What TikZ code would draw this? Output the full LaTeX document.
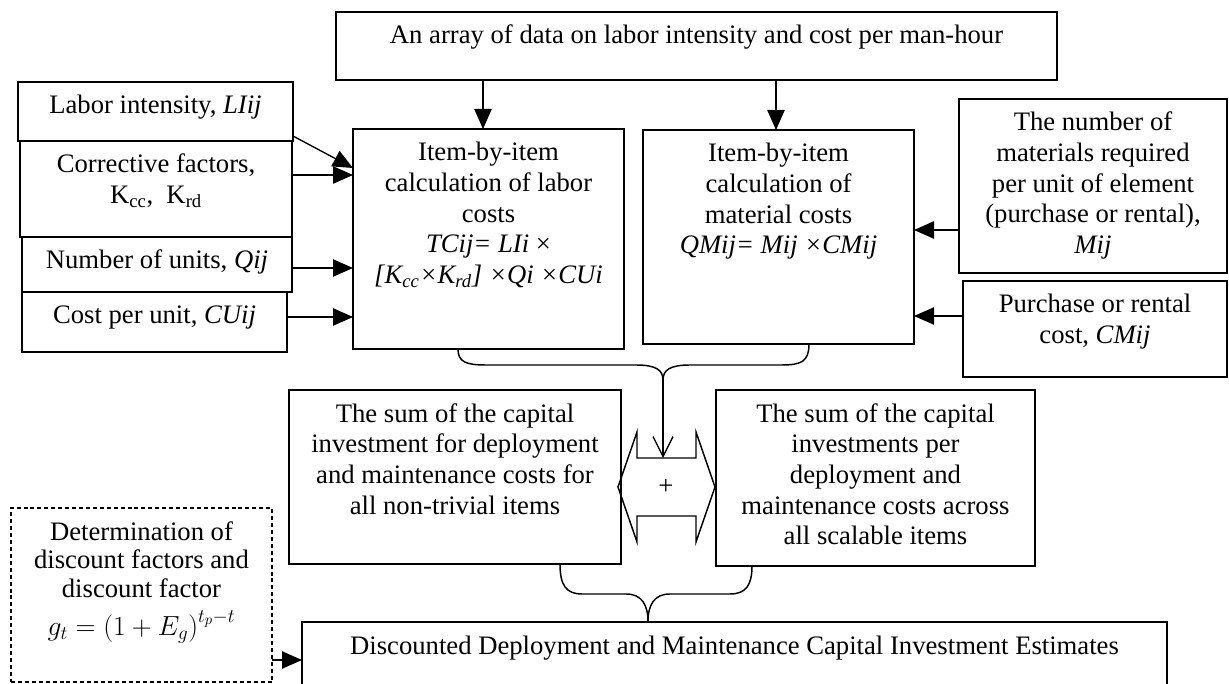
\documentclass[tikz,border=0pt]{standalone}
\usepackage{fontspec}
\setmainfont{Liberation Serif}
\usetikzlibrary{fit,arrows.meta}
\newcommand\firststrut{\rule{0pt}{17.8pt}}
\tikzset{
  box/.style={draw, line width=1.1pt, inner sep=0pt, outer sep=0pt},
  dbox/.style={box, dash pattern=on 3pt off 2.2pt},
  txt/.style={font=\fontsize{20}{23}\selectfont, align=center, inner sep=0pt, anchor=north},
  arr/.style={line width=1pt, -{Triangle[length=15pt,width=13pt]}},
  varr/.style={line width=1pt, -{Straight Barb[length=15pt,width=15pt,line width=1pt]}},
  brace/.style={line width=1.1pt},
}
\begin{document}
\begin{tikzpicture}[x=0.75pt,y=-0.75pt]
\useasboundingbox (0,0) rectangle (1229,684);
\clip (0,0) rectangle (1229,684);
% boxes
\node[box, fit={(336,12) (1057,80)}] (top) {};
\node[box, fit={(18,82) (293,141)}] (li) {};
\node[box, fit={(20,141) (292,237)}] (cf) {};
\node[box, fit={(22,237) (292,292)}] (nu) {};
\node[box, fit={(22,292) (287,352)}] (cu) {};
\node[box, fit={(353,129) (624,349)}] (lab) {};
\node[box, fit={(643,130) (914,344)}] (mat) {};
\node[box, fit={(959,99) (1227,273)}] (nm) {};
\node[box, fit={(963,281) (1227,377)}] (pr) {};
\node[box, fit={(289,390) (621,564)}] (ll) {};
\node[box, fit={(716,390) (1035,566)}] (lr) {};
\node[dbox, fit={(11,508) (272,682)}] (dash) {};
\node[box, fit={(302,622) (1167,700)}] (bot) {};
% texts
\node[txt] (ttop) at ([yshift=-6pt]top.north) {\firststrut An array of data on labor intensity and cost per man-hour};
\node[txt] (tli) at ([yshift=-6pt]li.north) {\firststrut Labor intensity, \textit{LIij}};
\node[txt] (tcf) at ([yshift=-6pt]cf.north) {\firststrut Corrective factors,\\ K\textsubscript{cc},\ \ K\textsubscript{rd}};
\node[txt] (tnu) at ([yshift=-6pt]nu.north) {\firststrut Number of units, \textit{Qij}};
\node[txt] (tcu) at ([yshift=-6pt]cu.north) {\firststrut Cost per unit, \textit{CUij}};
\node[txt] (tlab) at ([yshift=-6pt]lab.north) {\firststrut Item-by-item\\ calculation of labor\\ costs\\ \textit{TCij= LIi} ×\\ \textit{[K\textsubscript{cc}×K\textsubscript{rd}] ×Qi ×CUi}};
\node[txt] (tmat) at ([yshift=-6pt]mat.north) {\firststrut Item-by-item\\ calculation of\\ material costs\\ \textit{QMij= Mij ×CMij}};
\node[txt] (tnm) at ([yshift=-6pt]nm.north) {\firststrut The number of\\ materials required\\ per unit of element\\ (purchase or rental),\\ \textit{Mij}};
\node[txt] (tpr) at ([yshift=-6pt]pr.north) {\firststrut Purchase or rental\\ cost, \textit{CMij}};
\node[txt] (tll) at ([yshift=-6pt]ll.north) {\firststrut The sum of the capital\\ investment for deployment\\ and maintenance costs for\\ all non-trivial items};
\node[txt] (tlr) at ([yshift=-6pt]lr.north) {\firststrut The sum of the capital\\ investments per\\ deployment and\\ maintenance costs across\\ all scalable items};
\node[txt, font=\fontsize{20}{21.5}\selectfont] (tdash) at ([yshift=-6pt]dash.north) {\firststrut Determination of\\ discount factors and\\ discount factor\\[7pt] {\fontsize{21}{24}\selectfont$g_t=\Bigl(1+E_g\Bigr)^{t_p-t}$}};
\node[txt] (tbot) at ([yshift=-6pt]bot.north) {\firststrut Discounted Deployment and Maintenance Capital Investment Estimates};
% arrows
\draw[arr] (top.south -| 483,0) -- (lab.north -| 483,0);
\draw[arr] (top.south -| 776,0) -- (mat.north -| 776,0);
\draw[arr] (li.east |- 0,136) -- (lab.west |- 0,168);
\draw[arr] (cf.east |- 0,175) -- (lab.west |- 0,175);
\draw[arr] (nu.east |- 0,268) -- (lab.west |- 0,268);
\draw[arr] (cu.east |- 0,317) -- (lab.west |- 0,317);
\draw[arr] (nm.west |- 0,230) -- (mat.east |- 0,230);
\draw[arr] (pr.west |- 0,316) -- (mat.east |- 0,316);
\draw[arr] (dash.east |- 0,660) -- (bot.west |- 0,660);
% brace 1
\coordinate (b1l) at (lab.south -| 458,0);
\coordinate (b1r) at (mat.south -| 809,0);
\coordinate (b1t) at (663,380);
\draw[brace] (b1l) .. controls (458,362) and (466,365) .. (486,365) -- (636,365)
  .. controls (656,365) and (663,370) .. (b1t)
  .. controls (663,370) and (670,365) .. (690,365) -- (781,365)
  .. controls (801,365) and (809,362) .. (b1r);
% double arrow with plus
\draw[line width=1.1pt] (618,487) -- (637,432) -- (637,458) -- (696,458) -- (696,432)
  -- (715,487) -- (696,542) -- (696,516) -- (637,516) -- (637,542) -- cycle;
\node[txt, anchor=center] (plus) at (666,487) {+};
\coordinate (dtop) at (663,458);
\draw[varr] (b1t) -- (dtop);
% brace 2
\coordinate (b2l) at (ll.south -| 560,0);
\coordinate (b2r) at (lr.south -| 752,0);
\coordinate (b2t) at (bot.north -| 648,0);
\draw[brace] (b2l) .. controls (560,585) and (566,594) .. (582,594) -- (626,594)
  .. controls (642,594) and (648,605) .. (b2t)
  .. controls (648,605) and (654,594) .. (670,594) -- (730,594)
  .. controls (746,594) and (752,585) .. (b2r);
\end{tikzpicture}
\end{document}
